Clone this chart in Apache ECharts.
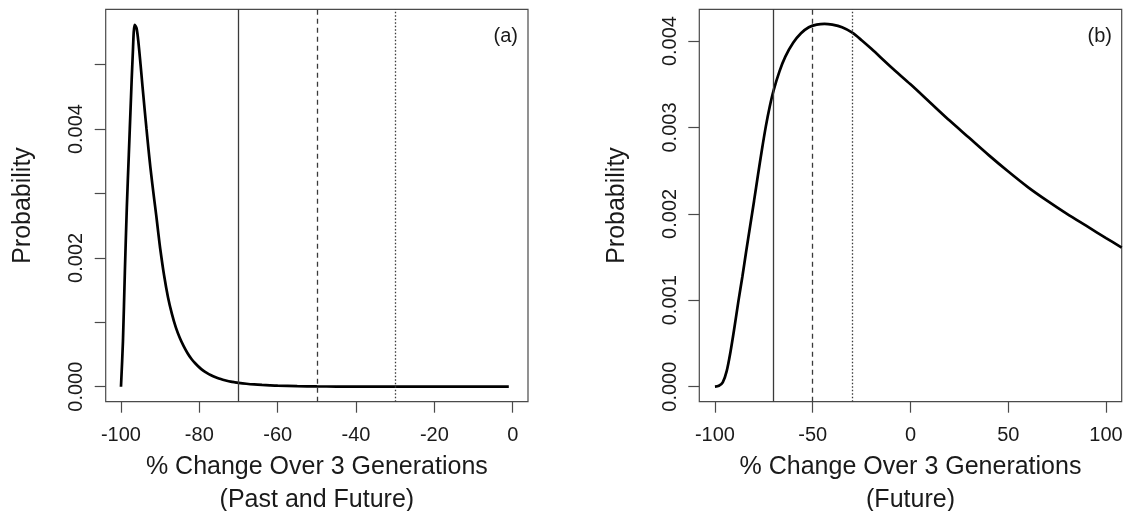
<!DOCTYPE html>
<html>
<head>
<meta charset="utf-8">
<script src="https://cdn.jsdelivr.net/npm/echarts@6/dist/echarts.min.js"></script>
<style>
html,body{margin:0;padding:0;background:#fff;}
#chart{width:1128px;height:511px;}
</style>
</head>
<body>
<div id="chart"></div>
<script>
// Panel (a): Past and Future
const changeA = [-100, -99.5, -99.0, -98.5, -98.0, -97.5, -97.0, -96.5, -96.0, -95.5, -95.0, -94.5, -94.0, -93.5, -93.0, -92.5, -92.0, -91.5, -91.0, -90.5, -90.0,
  -89, -88, -87, -86, -85, -84, -83, -82, -81, -80, -79, -78, -77, -76, -75, -74, -73, -72, -71, -70,
  -68, -66, -64, -62, -60, -55, -50, -45, -40, -30, -20, -10, -1];
const probA = [0, 0.0007, 0.0018, 0.0028, 0.0036, 0.0044, 0.00515, 0.00562, 0.00556, 0.00532, 0.00500, 0.00466, 0.00433, 0.00401, 0.00370, 0.00341, 0.00315, 0.00290, 0.00266, 0.00240, 0.00215,
  0.00173, 0.00139, 0.00113, 0.00092, 0.00076, 0.00063, 0.00052, 0.00043, 0.00036, 0.00030, 0.00025, 0.00021, 0.000178, 0.000150, 0.000127, 0.000108, 0.000092, 0.000079, 0.000069, 0.000060,
  0.000046, 0.000035, 0.000027, 0.000021, 0.000016, 0.000008, 0.000004, 0.000002, 0.000001, 0.0000003, 0.0000001, 0, 0];

// Panel (b): Future
const changeB = [-100, -98, -96, -94, -92, -90, -88, -86, -84, -82, -80, -78, -76, -74, -72, -70, -67, -64, -60, -56, -52, -48, -44, -40, -35, -30, -25, -20, -10, 0, 10, 20, 30, 40, 50, 60, 70, 80, 90, 100, 108];
const probB = [0, 0.00001, 0.00005, 0.00018, 0.00041, 0.00069, 0.00099, 0.00127, 0.00157, 0.00186, 0.00215, 0.00245, 0.00274, 0.00301, 0.00324, 0.00343, 0.00365, 0.00382, 0.00398, 0.00409, 0.00416, 0.00419, 0.00420, 0.00419, 0.00416, 0.00410, 0.00401, 0.00391, 0.00370, 0.00350, 0.00329, 0.00308, 0.00288, 0.00268, 0.00249, 0.00231, 0.00215, 0.00200, 0.00186, 0.00172, 0.00161];

// Reference thresholds (vertical lines)
const thresholds = [-70, -50, -30];

// Tick values / labels
const xTicksA = [-100, -80, -60, -40, -20, 0];
const xTicksB = [-100, -50, 0, 50, 100];
const yTicksA = [0, 0.001, 0.002, 0.003, 0.004, 0.005];
const yLabelsA = [0, 0.002, 0.004];
const yTicksB = [0, 0.001, 0.002, 0.003, 0.004];
const yLabelsB = [0, 0.001, 0.002, 0.003, 0.004];

const xTitleA = '% Change Over 3 Generations\n(Past and Future)';
const xTitleB = '% Change Over 3 Generations\n(Future)';
const yTitle = 'Probability';
const panelTags = ['(a)', '(b)'];

const FONT = 'Liberation Sans, Arial, Helvetica, sans-serif';
const BOX = '#4a4a4a';
const TXT = '#1a1a1a';

function pairs(xs, ys) { return xs.map((x, i) => [x, ys[i]]); }

function xAxisCfg(idx, min, max, ticks, title) {
  return {
    type: 'value', gridIndex: idx, min: min, max: max, position: 'bottom',
    splitLine: {show: false},
    axisLine: {show: false, onZero: false},
    axisTick: {show: true, customValues: ticks, length: 11, inside: false, lineStyle: {color: BOX, width: 1.2}},
    axisLabel: {customValues: ticks, margin: 24, fontSize: 20, color: TXT, fontFamily: FONT, formatter: v => String(v)},
    name: title, nameLocation: 'middle', nameGap: 42,
    nameTextStyle: {fontSize: 25, color: TXT, fontFamily: FONT, lineHeight: 33}
  };
}
function yAxisCfg(idx, min, max, ticks, labels, gap) {
  return {
    type: 'value', gridIndex: idx, min: min, max: max, position: 'left',
    splitLine: {show: false},
    axisLine: {show: false, onZero: false},
    axisTick: {show: true, customValues: ticks, length: 11, lineStyle: {color: BOX, width: 1.2}},
    axisLabel: {customValues: labels, rotate: 90, margin: 19, fontSize: 20, color: TXT, fontFamily: FONT, formatter: v => v.toFixed(3)},
    name: yTitle, nameLocation: 'middle', nameRotate: 90, nameGap: gap,
    nameTextStyle: {fontSize: 25, color: TXT, fontFamily: FONT}
  };
}
function refLines() {
  const styles = ['solid', [5, 4], [1.5, 2]];
  return {
    silent: true, symbol: 'none', label: {show: false},
    data: thresholds.map((t, i) => ({xAxis: t, lineStyle: {type: styles[i], color: '#3a3a3a', width: 1.3}}))
  };
}

const chart = echarts.init(document.getElementById('chart'), null, {renderer: 'canvas'});
chart.setOption({
  backgroundColor: '#ffffff',
  animation: false,
  grid: [
    {left: 105.7, top: 9.3, width: 422.3, height: 392.4, containLabel: false, outerBoundsMode: 'none', show: true, borderColor: BOX, borderWidth: 1.2, backgroundColor: 'transparent'},
    {left: 699.3, top: 9.3, width: 422.4, height: 392.4, containLabel: false, outerBoundsMode: 'none', show: true, borderColor: BOX, borderWidth: 1.2, backgroundColor: 'transparent'}
  ],
  xAxis: [
    xAxisCfg(0, -103.9, 3.9, xTicksA, xTitleA),
    xAxisCfg(1, -108, 108, xTicksB, xTitleB)
  ],
  yAxis: [
    yAxisCfg(0, -0.000233, 0.00586, yTicksA, yLabelsA, 70),
    yAxisCfg(1, -0.000174, 0.004368, yTicksB, yLabelsB, 70)
  ],
  series: [
    {type: 'line', xAxisIndex: 0, yAxisIndex: 0, data: pairs(changeA, probA), showSymbol: false, smooth: 0.3,
     lineStyle: {color: '#000', width: 2.7}, markLine: refLines()},
    {type: 'line', xAxisIndex: 1, yAxisIndex: 1, data: pairs(changeB, probB), showSymbol: false, smooth: 0.3,
     lineStyle: {color: '#000', width: 2.7}, markLine: refLines()}
  ],
  graphic: [
    {type: 'text', right: 1128 - 518, top: 26, style: {text: panelTags[0], font: '20px ' + FONT, fill: TXT}},
    {type: 'text', right: 1128 - 1112, top: 26, style: {text: panelTags[1], font: '20px ' + FONT, fill: TXT}}
  ]
});
</script>
</body>
</html>
